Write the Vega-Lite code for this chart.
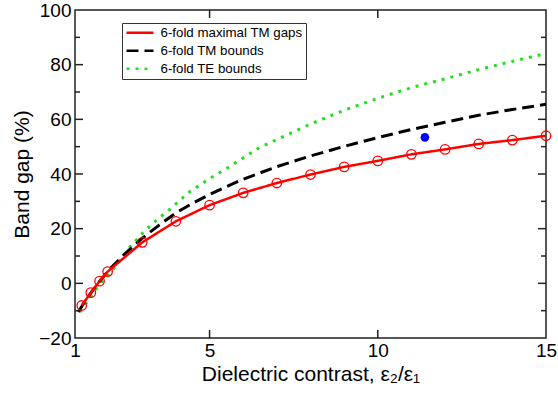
{
  "$schema": "https://vega.github.io/schema/vega-lite/v6.json",
  "width": 471,
  "height": 328,
  "autosize": "none",
  "padding": {"left": 75, "top": 10, "right": 12, "bottom": 60},
  "background": "white",
  "config": {
    "view": {"stroke": "#222", "strokeWidth": 1.5},
    "font": "Liberation Sans",
    "axis": {
      "grid": false,
      "domain": false,
      "ticks": false,
      "labelFont": "Liberation Sans",
      "titleFont": "Liberation Sans",
      "labelFontSize": 19,
      "titleFontSize": 21,
      "titleFontWeight": "normal",
      "labelColor": "black",
      "titleColor": "black",
      "labelFlush": false
    },
    "legend": {
      "orient": "none",
      "legendX": 47,
      "legendY": 13,
      "strokeColor": "#333",
      "fillColor": "white",
      "padding": 3,
      "symbolType": "stroke",
      "symbolSize": 729,
      "symbolStrokeWidth": 2.5,
      "labelFont": "Liberation Sans",
      "labelFontSize": 13.3,
      "labelColor": "black",
      "rowPadding": 3,
      "clipHeight": 13.5,
      "labelOffset": 5.5
    }
  },
  "datasets": {
    "red": [
      {"series": "6-fold maximal TM gaps", "x": 1.2, "y": -8.1},
      {"series": "6-fold maximal TM gaps", "x": 1.47, "y": -3.4},
      {"series": "6-fold maximal TM gaps", "x": 1.73, "y": 0.8},
      {"series": "6-fold maximal TM gaps", "x": 1.97, "y": 4.3},
      {"series": "6-fold maximal TM gaps", "x": 3, "y": 15.0},
      {"series": "6-fold maximal TM gaps", "x": 4, "y": 22.7},
      {"series": "6-fold maximal TM gaps", "x": 5, "y": 28.6},
      {"series": "6-fold maximal TM gaps", "x": 6, "y": 33.1},
      {"series": "6-fold maximal TM gaps", "x": 7, "y": 36.7},
      {"series": "6-fold maximal TM gaps", "x": 8, "y": 39.8},
      {"series": "6-fold maximal TM gaps", "x": 9, "y": 42.6},
      {"series": "6-fold maximal TM gaps", "x": 10, "y": 44.8},
      {"series": "6-fold maximal TM gaps", "x": 11, "y": 47.2},
      {"series": "6-fold maximal TM gaps", "x": 12, "y": 49.0},
      {"series": "6-fold maximal TM gaps", "x": 13, "y": 51.0},
      {"series": "6-fold maximal TM gaps", "x": 14, "y": 52.4},
      {"series": "6-fold maximal TM gaps", "x": 15, "y": 54.0}
    ],
    "tm": [
      {"series": "6-fold TM bounds", "x": 1.1, "y": -10.5},
      {"series": "6-fold TM bounds", "x": 1.3, "y": -6.5},
      {"series": "6-fold TM bounds", "x": 1.5, "y": -3.0},
      {"series": "6-fold TM bounds", "x": 1.75, "y": 1.0},
      {"series": "6-fold TM bounds", "x": 2, "y": 4.8},
      {"series": "6-fold TM bounds", "x": 2.5, "y": 11.0},
      {"series": "6-fold TM bounds", "x": 3, "y": 16.5},
      {"series": "6-fold TM bounds", "x": 3.5, "y": 21.3},
      {"series": "6-fold TM bounds", "x": 4, "y": 25.8},
      {"series": "6-fold TM bounds", "x": 4.5, "y": 29.3},
      {"series": "6-fold TM bounds", "x": 5, "y": 32.5},
      {"series": "6-fold TM bounds", "x": 5.5, "y": 35.4},
      {"series": "6-fold TM bounds", "x": 6, "y": 38.1},
      {"series": "6-fold TM bounds", "x": 7, "y": 42.7},
      {"series": "6-fold TM bounds", "x": 8, "y": 46.6},
      {"series": "6-fold TM bounds", "x": 9, "y": 50.1},
      {"series": "6-fold TM bounds", "x": 10, "y": 53.3},
      {"series": "6-fold TM bounds", "x": 11, "y": 56.3},
      {"series": "6-fold TM bounds", "x": 12, "y": 58.9},
      {"series": "6-fold TM bounds", "x": 13, "y": 61.5},
      {"series": "6-fold TM bounds", "x": 14, "y": 63.6},
      {"series": "6-fold TM bounds", "x": 15, "y": 65.5}
    ],
    "te": [
      {"series": "6-fold TE bounds", "x": 1.15, "y": -10.5},
      {"series": "6-fold TE bounds", "x": 1.45, "y": -5.2},
      {"series": "6-fold TE bounds", "x": 1.7, "y": -0.8},
      {"series": "6-fold TE bounds", "x": 2, "y": 3.2},
      {"series": "6-fold TE bounds", "x": 2.2, "y": 6.1},
      {"series": "6-fold TE bounds", "x": 2.6, "y": 12.8},
      {"series": "6-fold TE bounds", "x": 3, "y": 18.3},
      {"series": "6-fold TE bounds", "x": 3.3, "y": 21.8},
      {"series": "6-fold TE bounds", "x": 3.6, "y": 24.9},
      {"series": "6-fold TE bounds", "x": 3.9, "y": 27.9},
      {"series": "6-fold TE bounds", "x": 4.1, "y": 30.2},
      {"series": "6-fold TE bounds", "x": 4.4, "y": 33.4},
      {"series": "6-fold TE bounds", "x": 5, "y": 38.3},
      {"series": "6-fold TE bounds", "x": 5.5, "y": 42.0},
      {"series": "6-fold TE bounds", "x": 6, "y": 45.9},
      {"series": "6-fold TE bounds", "x": 6.5, "y": 49.8},
      {"series": "6-fold TE bounds", "x": 7, "y": 52.6},
      {"series": "6-fold TE bounds", "x": 8, "y": 58.3},
      {"series": "6-fold TE bounds", "x": 9, "y": 63.3},
      {"series": "6-fold TE bounds", "x": 10, "y": 67.7},
      {"series": "6-fold TE bounds", "x": 11, "y": 71.6},
      {"series": "6-fold TE bounds", "x": 12, "y": 74.8},
      {"series": "6-fold TE bounds", "x": 13, "y": 78.2},
      {"series": "6-fold TE bounds", "x": 14, "y": 81.2},
      {"series": "6-fold TE bounds", "x": 15, "y": 84.1}
    ],
    "blue": [
      {"x": 11.4, "y": 53.4}
    ],
    "yMajor": [{"v": 0}, {"v": 20}, {"v": 40}, {"v": 60}, {"v": 80}],
    "yMinor": [{"v": -10}, {"v": 10}, {"v": 30}, {"v": 50}, {"v": 70}, {"v": 90}],
    "xMajor": [{"v": 5}, {"v": 10}]
  },
  "layer": [
    {
      "data": {"name": "te"},
      "mark": {"type": "line", "strokeWidth": 3, "strokeCap": "butt"},
      "encoding": {
        "x": {
          "field": "x", "type": "quantitative",
          "scale": {"domain": [1, 15], "nice": false, "zero": false},
          "axis": {
            "orient": "bottom",
            "values": [1, 5, 10, 15],
            "labelPadding": 3,
            "title": "Dielectric contrast, ε₂/ε₁",
            "titlePadding": 3
          }
        },
        "y": {
          "field": "y", "type": "quantitative",
          "scale": {"domain": [-20, 100], "nice": false, "zero": false},
          "axis": {
            "orient": "left",
            "values": [-20, 0, 20, 40, 60, 80, 100],
            "labelPadding": 4,
            "title": "Band gap (%)",
            "titlePadding": 6
          }
        },
        "color": {
          "field": "series", "type": "nominal",
          "scale": {
            "domain": ["6-fold maximal TM gaps", "6-fold TM bounds", "6-fold TE bounds"],
            "range": ["#ff0000", "#000000", "#22dd22"]
          },
          "legend": {"title": null}
        },
        "strokeDash": {
          "field": "series", "type": "nominal",
          "scale": {
            "domain": ["6-fold maximal TM gaps", "6-fold TM bounds", "6-fold TE bounds"],
            "range": [[1, 0], [12, 6], [3, 6]]
          },
          "legend": {"title": null}
        }
      }
    },
    {
      "data": {"name": "tm"},
      "mark": {"type": "line", "strokeWidth": 3, "strokeCap": "butt"},
      "encoding": {
        "x": {"field": "x", "type": "quantitative", "axis": null},
        "y": {"field": "y", "type": "quantitative", "axis": null},
        "color": {"field": "series", "type": "nominal", "legend": {"title": null}},
        "strokeDash": {"field": "series", "type": "nominal", "legend": {"title": null}}
      }
    },
    {
      "data": {"name": "red"},
      "mark": {"type": "line", "strokeWidth": 2.5},
      "encoding": {
        "x": {"field": "x", "type": "quantitative", "axis": null},
        "y": {"field": "y", "type": "quantitative", "axis": null},
        "color": {"field": "series", "type": "nominal", "legend": {"title": null}},
        "strokeDash": {"field": "series", "type": "nominal", "legend": {"title": null}}
      }
    },
    {
      "data": {"name": "red"},
      "mark": {"type": "point", "shape": "circle", "filled": false, "size": 90, "strokeWidth": 1.3, "color": "#ff0000", "opacity": 1},
      "encoding": {
        "x": {"field": "x", "type": "quantitative", "axis": null},
        "y": {"field": "y", "type": "quantitative", "axis": null}
      }
    },
    {
      "data": {"name": "blue"},
      "mark": {"type": "point", "shape": "circle", "filled": true, "size": 75, "color": "#0000ff", "opacity": 1},
      "encoding": {
        "x": {"field": "x", "type": "quantitative", "axis": null},
        "y": {"field": "y", "type": "quantitative", "axis": null}
      }
    },
    {
      "data": {"name": "yMajor"},
      "mark": {"type": "tick", "orient": "horizontal", "size": 16, "thickness": 1.5, "color": "#222", "opacity": 1, "clip": true},
      "encoding": {
        "x": {"datum": 1, "type": "quantitative", "axis": null},
        "y": {"field": "v", "type": "quantitative", "axis": null}
      }
    },
    {
      "data": {"name": "yMajor"},
      "mark": {"type": "tick", "orient": "horizontal", "size": 16, "thickness": 1.5, "color": "#222", "opacity": 1, "clip": true},
      "encoding": {
        "x": {"datum": 15, "type": "quantitative", "axis": null},
        "y": {"field": "v", "type": "quantitative", "axis": null}
      }
    },
    {
      "data": {"name": "yMinor"},
      "mark": {"type": "tick", "orient": "horizontal", "size": 10, "thickness": 1.5, "color": "#222", "opacity": 1, "clip": true},
      "encoding": {
        "x": {"datum": 1, "type": "quantitative", "axis": null},
        "y": {"field": "v", "type": "quantitative", "axis": null}
      }
    },
    {
      "data": {"name": "yMinor"},
      "mark": {"type": "tick", "orient": "horizontal", "size": 10, "thickness": 1.5, "color": "#222", "opacity": 1, "clip": true},
      "encoding": {
        "x": {"datum": 15, "type": "quantitative", "axis": null},
        "y": {"field": "v", "type": "quantitative", "axis": null}
      }
    },
    {
      "data": {"name": "xMajor"},
      "mark": {"type": "tick", "orient": "vertical", "size": 16, "thickness": 1.5, "color": "#222", "opacity": 1, "clip": true},
      "encoding": {
        "x": {"field": "v", "type": "quantitative", "axis": null},
        "y": {"datum": -20, "type": "quantitative", "axis": null}
      }
    },
    {
      "data": {"name": "xMajor"},
      "mark": {"type": "tick", "orient": "vertical", "size": 16, "thickness": 1.5, "color": "#222", "opacity": 1, "clip": true},
      "encoding": {
        "x": {"field": "v", "type": "quantitative", "axis": null},
        "y": {"datum": 100, "type": "quantitative", "axis": null}
      }
    }
  ],
  "resolve": {"axis": {"x": "independent", "y": "independent"}}
}
